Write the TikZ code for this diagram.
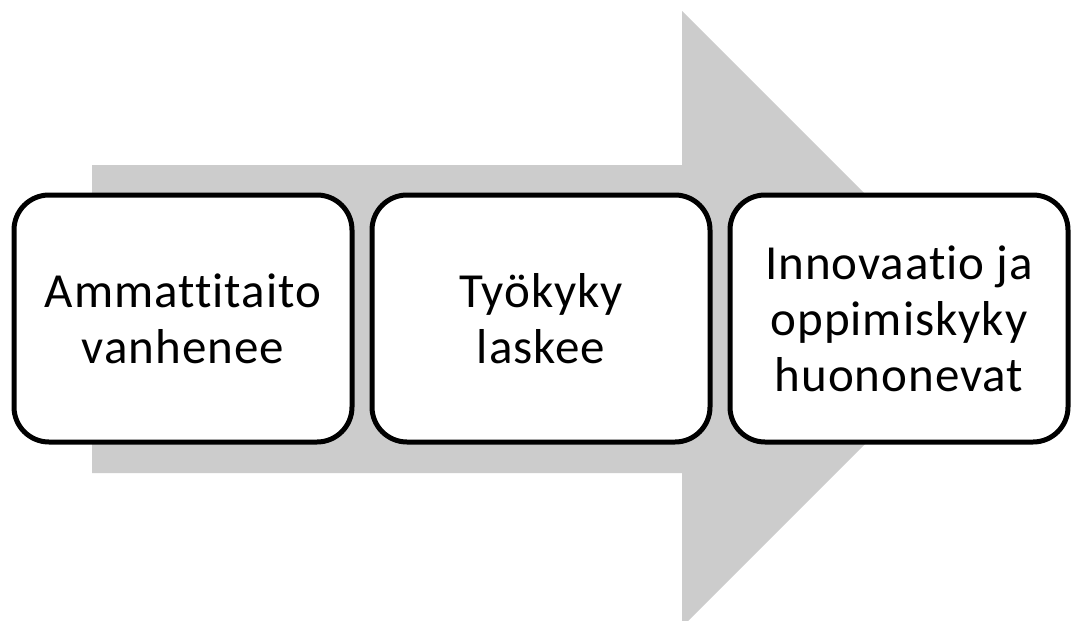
\documentclass[tikz,border=0pt]{standalone}
\usepackage{fontspec}
\setmainfont[Ligatures=NoCommon,LetterSpace=2]{Carlito}
\begin{document}
\begin{tikzpicture}[x=1pt,y=-1pt,
  stagebox/.style={draw=black, fill=white, line width=5pt, rounded corners=35pt,
    minimum width=338pt, minimum height=247pt, inner sep=0pt, align=center,
    font=\fontsize{49}{56}\selectfont},
  flowarrow/.style={fill=black!20, draw=none}]
  \clip (0,0) rectangle (1072,621);
  \fill[white] (0,0) rectangle (1072,621);
  % broad process arrow behind the stages
  \fill[flowarrow] (92,165) -- (682,165) -- (682,11) -- (990,319)
    -- (682,627) -- (682,473) -- (92,473) -- cycle;
  % the three stages
  \node[stagebox] (a) at (183,318.5) {Ammattitaito\\vanhenee};
  \node[stagebox] (b) at (541,318.5) {Työkyky\\laskee};
  \node[stagebox] (c) at (899,318.5) {Innovaatio ja\\oppimiskyky\\huononevat};
\end{tikzpicture}
\end{document}
